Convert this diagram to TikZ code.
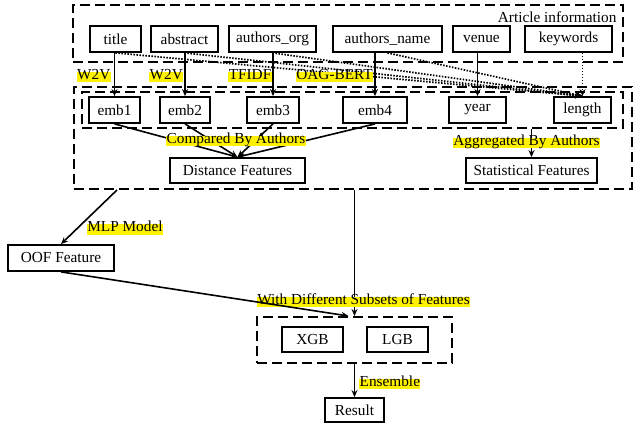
\documentclass[tikz,border=0pt]{standalone}
\usepackage{fontspec}
\setmainfont{Liberation Serif}
\usepackage{tikz}
\usetikzlibrary{calc,arrows.meta}
\tikzstyle{box} = [draw, rectangle, line width=1.8pt, minimum height=26pt, inner sep=1pt]
\tikzstyle{group} = [draw, rectangle, line width=2pt, dash pattern=on 10pt off 5pt, inner sep=0pt]
\tikzstyle{tag} = [fill=yellow, inner sep=0.4pt, text height=0.72em, text depth=0.22em]
\tikzstyle{arr} = [-{Stealth[length=7pt,width=6pt]}, line width=1.6pt]
\tikzstyle{dots} = [-{Stealth[length=7pt,width=6pt]}, line width=1.7pt, dash pattern=on 1.5pt off 1.5pt]

\begin{document}
\begin{tikzpicture}[x=1pt, y=-1pt, font=\fontsize{15.3}{18}\selectfont]
    \useasboundingbox (0,0) rectangle (633,427);
    % dashed groups
    \node[group, minimum width=550pt, minimum height=57pt] (info) at (348,33.5) {};
    \node[group, minimum width=558pt, minimum height=102pt] (outer) at (353,138) {};
    \node[group, minimum width=541pt, minimum height=36pt] (inner) at (352.5,110) {};
    \node[group, minimum width=195pt, minimum height=46pt] (ens) at (354.5,340) {};
    \node[anchor=east] (infolabel) at ($(info.north east)+(-4,13)$) {Article information};
    % article fields
    \node[box, minimum width=51pt] (title) at (115.5,39) {title};
    \node[box, minimum width=67pt] (abstract) at (184.5,39) {abstract};
    \node[box, minimum width=87pt] (org) at (272.5,39) {authors\_org};
    \node[box, minimum width=109pt] (name) at (387.5,39) {authors\_name};
    \node[box, minimum width=57pt] (venue) at (481.5,39) {venue};
    \node[box, minimum width=87pt] (keywords) at (568.5,39) {keywords};
    % embeddings
    \node[box, minimum width=51pt] (emb1) at (114.5,110) {emb1};
    \node[box, minimum width=50pt] (emb2) at (185,110) {emb2};
    \node[box, minimum width=52pt] (emb3) at (273,110) {emb3};
    \node[box, minimum width=64pt] (emb4) at (375,110) {emb4};
    \node[box, minimum width=57pt] (year) at (477.5,110) {year};
    \node[box, minimum width=57pt] (length) at (582.5,110) {length};
    % features and models
    \node[box, minimum width=135pt, minimum height=25pt] (dist) at (237.5,170.5) {Distance Features};
    \node[box, minimum width=131pt, minimum height=25pt] (stat) at (531.5,170.5) {Statistical Features};
    \node[box, minimum width=106pt] (oof) at (61,258) {OOF Feature};
    \node[box, minimum width=61pt, minimum height=25pt] (xgb) at (312.5,339.5) {XGB};
    \node[box, minimum width=61pt, minimum height=25pt] (lgb) at (397.5,339.5) {LGB};
    \node[box, minimum width=59pt, minimum height=24pt] (result) at (354.5,410) {Result};
    % length from texts
    \foreach \src in {title, abstract, org, name}
        \draw[dots] (\src.south) -- (length.north);
    \draw[dots] (length.north |- keywords.south) -- (length.north);
    % embeddings
    \draw[arr] (emb1.north |- title.south) -- node[tag, left=3pt, pos=0.55] {W2V} (emb1.north);
    \draw[arr] (emb2.north |- abstract.south) -- node[tag, left=1pt, pos=0.55] {W2V} (emb2.north);
    \draw[arr] (emb3.north |- org.south) -- node[tag, left=0.5pt, pos=0.55] {TFIDF} (emb3.north);
    \draw[arr] (emb4.north |- name.south) -- node[tag, left=1pt, pos=0.55] {OAG-BERT} (emb4.north);
    \draw[arr] (year.north |- venue.south) -- (year.north);
    % features
    \foreach \e in {emb1, emb2, emb3, emb4}
        \draw[arr] (\e.south) -- (dist.north);
    \node[tag] (cmp) at (236,141) {Compared By Authors};
    \draw[arr] (stat.north |- inner.south) -- node[tag, pos=0.5, xshift=-5pt] {Aggregated By Authors} (stat.north);
    \draw[arr] ($(outer.south west)+(44,0)$) -- node[tag, right=10pt, pos=0.73] {MLP Model} (oof.north);
    \draw[arr] (ens.north |- outer.south) -- node[tag, pos=0.89, xshift=9pt] {With Different Subsets of Features} (ens.north);
    \draw[arr] (oof.south) -- ($(ens.north)+(-6,0)$);
    \draw[arr] (ens.south) -- node[tag, right=4pt, pos=0.6] {Ensemble} (result.north);
\end{tikzpicture}
\end{document}
